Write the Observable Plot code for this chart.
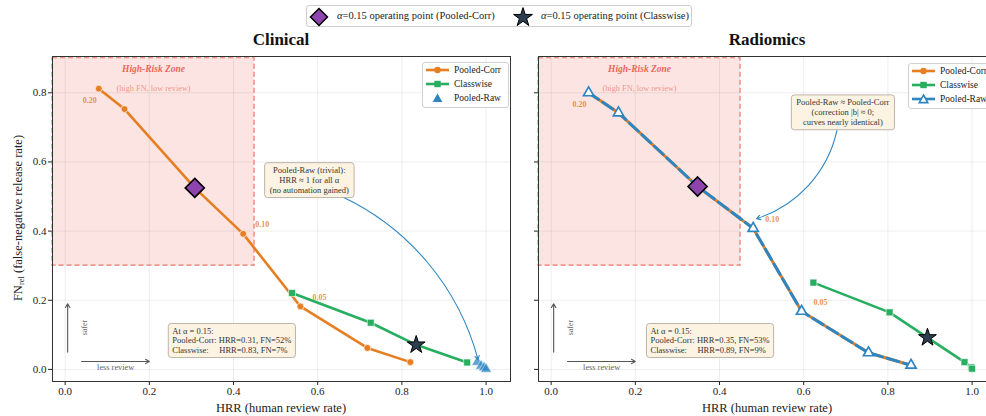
<!DOCTYPE html>
<html><head><meta charset="utf-8">
<script src="https://cdn.jsdelivr.net/npm/d3@7"></script>
<script src="https://cdn.jsdelivr.net/npm/@observablehq/plot@0.6"></script>
<style>
html,body{margin:0;padding:0;background:#fff;overflow:hidden;}
#wrap{position:relative;width:986px;height:416px;overflow:hidden;font-family:"Liberation Serif",serif;color:#222;}
.abs{position:absolute;white-space:nowrap;}
.panel{position:absolute;top:0;}
.lg{position:absolute;border:1px solid #d0d0d0;border-radius:3px;background:rgba(255,255,255,0.9);box-sizing:border-box;}
.lg .row{position:absolute;left:0;height:12px;font-size:9.5px;line-height:12px;}
.lg svg{position:absolute;left:2px;top:0;}
.lg span{position:absolute;left:31px;top:0;}
</style></head><body><div id="wrap"></div>
<script>
// ---------------- data ----------------
const xTicks = [0, 0.2, 0.4, 0.6, 0.8, 1.0];
const yTicks = [0, 0.2, 0.4, 0.6, 0.8];
const opAlpha = 0.15;
const labeledAlphas = [0.20, 0.10, 0.05];

// Clinical
const clinCorrAlpha = [0.20, 0.18, 0.15, 0.10, 0.05, 0.02, 0.01];
const clinCorrHRR   = [0.080, 0.141, 0.308, 0.423, 0.559, 0.718, 0.820];
const clinCorrFN    = [0.812, 0.753, 0.525, 0.392, 0.182, 0.062, 0.021];
const clinClsAlpha  = [0.20, 0.18, 0.15, 0.10];
const clinClsHRR    = [0.539, 0.726, 0.834, 0.955];
const clinClsFN     = [0.221, 0.135, 0.071, 0.020];
const clinRawHRR    = [0.979, 0.988, 0.995, 1.000];
const clinRawFN     = [0.021, 0.010, 0.005, 0.001];

// Radiomics
const radCorrAlpha = [0.20, 0.18, 0.15, 0.10, 0.05, 0.02, 0.01];
const radCorrHRR   = [0.089, 0.160, 0.348, 0.480, 0.595, 0.754, 0.855];
const radCorrFN    = [0.800, 0.742, 0.529, 0.408, 0.168, 0.048, 0.012];
const radRawAlpha  = [0.20, 0.18, 0.15, 0.10, 0.05, 0.02, 0.01];
const radRawHRR    = [0.089, 0.160, 0.348, 0.480, 0.595, 0.754, 0.855];
const radRawFN     = [0.800, 0.742, 0.529, 0.408, 0.168, 0.048, 0.012];
const radClsAlpha  = [0.20, 0.18, 0.15, 0.10, 0.05, 0.02];
const radClsHRR    = [0.623, 0.804, 0.894, 0.982, 0.998, 1.000];
const radClsFN     = [0.251, 0.165, 0.092, 0.021, 0.006, 0.002];

// texts
const panelTitles = ["Clinical", "Radiomics"];
const clinNoteText = "Pooled-Raw (trivial):\nHRR \u2248 1 for all \u03b1\n(no automation gained)";
const radNoteText = "Pooled-Raw \u2248 Pooled-Corr\n(correction |b| \u2248 0;\ncurves nearly identical)";
const clinSummaryText = "At \u03b1 = 0.15:\nPooled-Corr: HRR=0.31, FN=52%\nClasswise:\u00a0\u00a0\u00a0\u00a0 HRR=0.83, FN=7%";
const radSummaryText = "At \u03b1 = 0.15:\nPooled-Corr: HRR=0.35, FN=53%\nClasswise:\u00a0\u00a0\u00a0\u00a0 HRR=0.89, FN=9%";

// ---------------- styles ----------------
const C_CORR = "#e67e22", C_CLS = "#27ae60", C_RAW = "#2e86c1";
const C_DIAM = "#8e44ad", C_STAR = "#2c3e50", C_ZONE = "#e74c3c";
const xDomain = [-0.03, 1.058], yDomain = [-0.035, 0.905];

const rows = (h, f, a) => h.map((x, i) => ({x, y: f[i], a: a ? a[i] : null}));

const panels = [
  {left: 0, corr: rows(clinCorrHRR, clinCorrFN, clinCorrAlpha), cls: rows(clinClsHRR, clinClsFN, clinClsAlpha),
   raw: rows(clinRawHRR, clinRawFN), rawLine: false, showY: true,
   note: {x: 0.58, y: 0.548, text: clinNoteText}, noteArrow: {x1: 0.657, y1: 0.50, x2: 0.981, y2: 0.028, bend: 25},
   summary: {x: 0.2546, y: 0.122, text: clinSummaryText}},
  {left: 486, corr: rows(radCorrHRR, radCorrFN, radCorrAlpha), cls: rows(radClsHRR, radClsFN, radClsAlpha),
   raw: rows(radRawHRR, radRawFN, radRawAlpha), rawLine: true, showY: false,
   note: {x: 0.693, y: 0.744, text: radNoteText}, noteArrow: {x1: 0.679, y1: 0.691, x2: 0.488, y2: 0.436, bend: 30},
   summary: {x: 0.236, y: 0.122, text: radSummaryText}}
];

const wrap = document.getElementById("wrap");
const FONT = "Liberation Serif";

function makePanel(p) {
  const corrOp = p.corr.filter(d => d.a === opAlpha);
  const clsOp = p.cls.filter(d => d.a === opAlpha);
  const labeled = p.corr.filter(d => labeledAlphas.includes(d.a));
  const zone = [{x1: -0.03, x2: 0.45, y1: 0.30, y2: 0.90}];
  const marks = [
    Plot.gridX(xTicks, {stroke: "#000", strokeOpacity: 0.07}),
    Plot.gridY(yTicks, {stroke: "#000", strokeOpacity: 0.07}),
    Plot.rect(zone, {x1: "x1", x2: "x2", y1: "y1", y2: "y2", fill: C_ZONE, fillOpacity: 0.15,
      stroke: C_ZONE, strokeOpacity: 0.75, strokeDasharray: "5,3", strokeWidth: 1.2}),
    Plot.text(zone, {x: d => (d.x1 + d.x2) / 2, y: 0.869, text: () => "High-Risk Zone", fill: C_ZONE, fillOpacity: 0.85,
      fontWeight: "bold", fontStyle: "italic", fontSize: 9.5}),
    Plot.text(zone, {x: d => (d.x1 + d.x2) / 2, y: 0.812, text: () => "(high FN, low review)", fill: C_ZONE, fillOpacity: 0.55,
      fontSize: 8.3}),
    // orientation arrows
    Plot.arrow([{x1: 0.006, y1: 0.05, x2: 0.006, y2: 0.19}, {x1: 0.039, y1: 0.023, x2: 0.20, y2: 0.023}],
      {x1: "x1", y1: "y1", x2: "x2", y2: "y2", stroke: "#555", strokeWidth: 1.1, headLength: 6}),
    Plot.text([0], {x: 0.046, y: 0.121, text: () => "safer", rotate: -90, fill: "#666", fontSize: 8}),
    Plot.text([0], {x: 0.12, y: 0.006, text: () => "less review", fill: "#666", fontSize: 8.3}),
    // series
    Plot.line(p.corr, {x: "x", y: "y", stroke: C_CORR, strokeWidth: p.rawLine ? 3 : 2.6}),
  ];
  if (!p.rawLine) marks.push(Plot.dot(p.corr.filter(d => d.a !== opAlpha), {x: "x", y: "y", r: 3.4, fill: C_CORR, stroke: "#fff", strokeWidth: 0.6}));
  marks.push(
    Plot.line(p.cls, {x: "x", y: "y", stroke: C_CLS, strokeWidth: 2.6}),
    Plot.dot(p.cls.filter(d => d.a !== opAlpha), {x: "x", y: "y", r: 3.9, symbol: "square", fill: C_CLS, stroke: "#fff", strokeWidth: 0.6})
  );
  if (p.rawLine) {
    marks.push(
      Plot.line(p.raw, {x: "x", y: "y", stroke: C_RAW, strokeWidth: 3, strokeDasharray: "12,5"}),
      Plot.dot(p.raw, {x: "x", y: "y", r: 3.8, symbol: "triangle", fill: "#fff", stroke: C_RAW, strokeWidth: 1.7})
    );
  } else {
    marks.push(Plot.dot(p.raw, {x: "x", y: "y", r: 4.1, symbol: "triangle", fill: C_RAW, fillOpacity: 0.75, stroke: "#fff", strokeWidth: 0.5}));
  }
  marks.push(
    // alpha labels
    Plot.text(labeled.filter(d => d.a === 0.20), {x: "x", y: "y", text: d => d.a.toFixed(2), dx: -9, dy: 12,
      fill: C_CORR, fillOpacity: 0.85, fontWeight: "bold", fontSize: 8}),
    Plot.text(labeled.filter(d => d.a !== 0.20), {x: "x", y: "y", text: d => d.a.toFixed(2), dx: 19, dy: -9,
      fill: C_CORR, fillOpacity: 0.85, fontWeight: "bold", fontSize: 8}),
    // operating points
    Plot.dot(corrOp, {x: "x", y: "y", r: 8.6, symbol: "diamond2", fill: C_DIAM, stroke: "#000", strokeWidth: 1.6}),
    Plot.dot(clsOp, {x: "x", y: "y", r: 5.6, symbol: "star", fill: C_STAR, stroke: "#000", strokeWidth: 1}),
    // annotation
    Plot.arrow([p.noteArrow], {x1: "x1", y1: "y1", x2: "x2", y2: "y2", bend: p.noteArrow.bend, stroke: C_RAW, strokeWidth: 1.1, headLength: 6}),
    Plot.text([p.note], {x: "x", y: "y", text: "text", fontSize: 8.5, lineHeight: 1.17, fill: "#333"}),
    Plot.text([p.summary], {x: "x", y: "y", text: "text", fontSize: 8.5, lineHeight: 1.12, fill: "#333", textAnchor: "start", lineAnchor: "top"}),
    Plot.frame({stroke: "#333", strokeWidth: 1})
  );
  const svg = Plot.plot({
    width: 520, height: 416,
    marginTop: 56, marginBottom: 35, marginLeft: 52, marginRight: 10,
    style: {fontFamily: FONT, fontSize: "11px", color: "#222", background: "transparent", overflow: "visible"},
    x: {domain: xDomain, ticks: xTicks, tickFormat: d3.format(".1f"), tickSize: 4, tickPadding: 2, label: null},
    y: {domain: yDomain, ticks: yTicks, tickFormat: p.showY ? d3.format(".1f") : () => "", tickSize: 4, tickPadding: 2, label: null},
    marks
  });
  svg.classList.add("panel");
  svg.style.left = p.left + "px";
  wrap.appendChild(svg);
  // boxes behind annotation texts
  const boxed = [
    {text: p.note.text, padX: 5, padY: 2.5},
    {text: p.summary.text, padX: 4, padY: 2.5}
  ];
  svg.querySelectorAll("text").forEach(el => {
    const b = boxed.find(o => o.text.replace(/\n/g, "") === el.textContent);
    if (!b) return;
    const bb = el.getBBox();
    const r = document.createElementNS("http://www.w3.org/2000/svg", "rect");
    r.setAttribute("x", bb.x - b.padX); r.setAttribute("y", bb.y - b.padY);
    r.setAttribute("width", bb.width + 2 * b.padX); r.setAttribute("height", bb.height + 2 * b.padY);
    r.setAttribute("rx", 3); r.setAttribute("fill", "#fdf2e2"); r.setAttribute("fill-opacity", 0.95);
    r.setAttribute("stroke", "#b5ada2"); r.setAttribute("stroke-width", 0.9);
    const tr = el.getAttribute("transform");
    if (tr) r.setAttribute("transform", tr);
    el.parentNode.insertBefore(r, el);
  });
}
panels.forEach(makePanel);

// ---------- titles, axis labels ----------
function addText(html, x, y, css) {
  const d = document.createElement("div");
  d.className = "abs"; d.innerHTML = html;
  Object.assign(d.style, {left: x + "px", top: y + "px", transform: "translate(-50%,-50%)"}, css || {});
  wrap.appendChild(d); return d;
}
addText(panelTitles[0], 281, 40, {fontSize: "17px", fontWeight: "bold", color: "#111"});
addText(panelTitles[1], 767, 40, {fontSize: "17px", fontWeight: "bold", color: "#111"});
addText("HRR (human review rate)", 281, 408, {fontSize: "12.5px"});
addText("HRR (human review rate)", 767, 408, {fontSize: "12.5px"});
addText("FN<sub style='font-size:8.5px;vertical-align:-2px'>rel</sub> (false-negative release rate)", 18, 218,
  {fontSize: "12.5px", transform: "translate(-50%,-50%) rotate(-90deg)"});

// ---------- legends ----------
function swatch(item) {
  let s = `<svg width="26" height="12" viewBox="0 0 26 12">`;
  if (item.line) s += `<line x1="1" y1="6" x2="24" y2="6" stroke="${item.color}" stroke-width="2.6"/>`;
  if (item.sym === "circle") s += `<circle cx="12.5" cy="6" r="3.2" fill="${item.color}"/>`;
  if (item.sym === "square") s += `<rect x="9.3" y="2.8" width="6.4" height="6.4" fill="${item.color}"/>`;
  if (item.sym === "tri") s += `<path d="M12.5,1.5L17.3,10L7.7,10Z" fill="${item.color}"/>`;
  if (item.sym === "triOpen") s += `<path d="M12.5,2L16.8,9.6L8.2,9.6Z" fill="#fff" stroke="${item.color}" stroke-width="1.6"/>`;
  return s + "</svg>";
}
const legendNames = ["Pooled-Corr", "Classwise", "Pooled-Raw"];
function panelLegend(left, topY, rawSym, rawLine) {
  const items = [
    {label: legendNames[0], color: C_CORR, line: true, sym: "circle"},
    {label: legendNames[1], color: C_CLS, line: true, sym: "square"},
    {label: legendNames[2], color: C_RAW, line: rawLine, sym: rawSym}
  ];
  const box = document.createElement("div");
  box.className = "lg";
  Object.assign(box.style, {left: left + "px", top: topY + "px", width: "87px", height: "46px"});
  items.forEach((it, i) => {
    const r = document.createElement("div");
    r.className = "row"; r.style.top = (1 + i * 14.2) + "px"; r.style.width = "100%";
    r.innerHTML = swatch(it) + `<span>${it.label}</span>`;
    box.appendChild(r);
  });
  wrap.appendChild(box);
}
panelLegend(422, 62, "tri", false);
panelLegend(908, 63, "triOpen", true);

// top legend
const topLegend = document.createElement("div");
topLegend.className = "abs";
Object.assign(topLegend.style, {left: "306px", top: "5px", width: "386px", height: "22px", border: "1px solid #ccc",
  borderRadius: "3px", boxSizing: "border-box", fontSize: "10.5px", lineHeight: "20px"});
topLegend.innerHTML =
  `<svg style="position:absolute;left:2px;top:1px" width="20" height="20"><path d="M10,1.5L18.5,10L10,18.5L1.5,10Z" fill="${C_DIAM}" stroke="#000" stroke-width="1.5"/></svg>` +
  `<span style="position:absolute;left:30px;top:0"><i>\u03b1</i>=0.15 operating point (Pooled-Corr)</span>` +
  `<svg style="position:absolute;left:206px;top:1px" width="20" height="20"><path d="${d3.symbol(d3.symbolStar, 110)()}" transform="translate(10,10.5)" fill="${C_STAR}" stroke="#000" stroke-width="1"/></svg>` +
  `<span style="position:absolute;left:234px;top:0"><i>\u03b1</i>=0.15 operating point (Classwise)</span>`;
wrap.appendChild(topLegend);
</script>
</body></html>
